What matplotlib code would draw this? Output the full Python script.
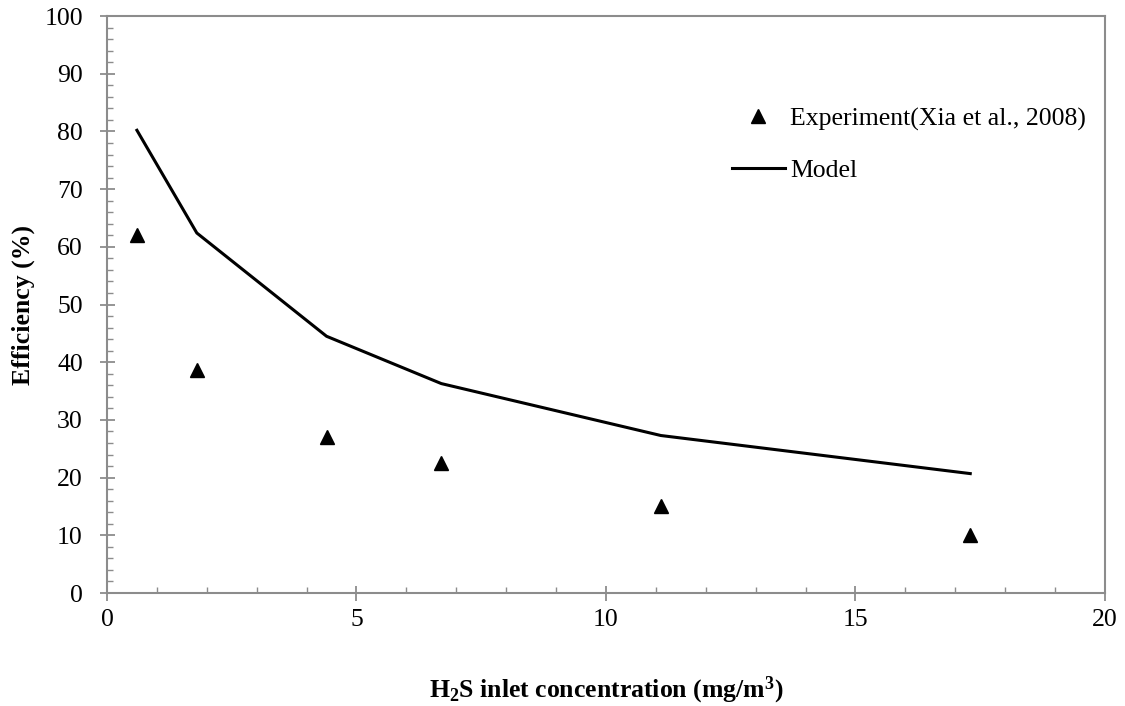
import matplotlib
matplotlib.use("Agg")
import matplotlib.pyplot as plt
from matplotlib.ticker import MultipleLocator

plt.rcParams['font.family'] = ['Liberation Serif', 'DejaVu Serif']
plt.rcParams['mathtext.fontset'] = 'custom'
plt.rcParams['mathtext.rm'] = 'Liberation Serif'
plt.rcParams['mathtext.bf'] = 'Liberation Serif:bold'

# H2S inlet concentration (mg/m3)
concentration = [0.6, 1.8, 4.4, 6.7, 11.1, 17.3]
# Removal efficiency (%)
experiment = [62.0, 38.6, 27.1, 22.5, 15.1, 10.1]
model = [80.2, 62.4, 44.5, 36.3, 27.3, 20.7]

x_ticks = [0, 5, 10, 15, 20]
y_ticks = [0, 10, 20, 30, 40, 50, 60, 70, 80, 90, 100]

FS = 18.5

fig = plt.figure(figsize=(11.25, 7.06), dpi=100)
ax = fig.add_axes([0.0951, 0.160, 0.8871, 0.8173])

ax.plot(concentration, experiment, linestyle='none', marker='^', color='black',
        markersize=10.5, label='Experiment(Xia et al., 2008)')
ax.plot(concentration, model, color='black', linewidth=2.2, label='Model')

ax.set_xlim(0, 20)
ax.set_ylim(0, 100)
ax.set_xticks(x_ticks)
ax.set_yticks(y_ticks)
ax.xaxis.set_minor_locator(MultipleLocator(1))
ax.yaxis.set_minor_locator(MultipleLocator(2))

spine_color = '#8c8c8c'
for s in ax.spines.values():
    s.set_color(spine_color)
    s.set_linewidth(1.5)

ax.tick_params(which='major', direction='inout', length=10.8, width=1.3,
               color=spine_color, labelsize=FS, labelcolor='black')
ax.tick_params(which='minor', direction='in', length=4.5, width=1.0,
               color=spine_color)
ax.tick_params(axis='x', which='major', pad=6)
ax.tick_params(axis='y', which='major', pad=12)

ax.set_ylabel('Efficiency (%)', fontsize=FS, fontweight='bold')
ax.yaxis.set_label_coords(-0.084, 0.5)
ax.yaxis.label.set_verticalalignment('center')

ax.set_xlabel(r'$\mathbf{H_2S}$ inlet concentration (mg/m$\mathbf{^3}$)',
              fontsize=FS, fontweight='bold')
ax.xaxis.set_label_coords(0.5, -0.168)
ax.xaxis.label.set_verticalalignment('center')

leg = ax.legend(loc='upper left', bbox_to_anchor=(0.603, 0.882), frameon=False,
                fontsize=FS, handlelength=2.07, handletextpad=0.19,
                labelspacing=1.1)

fig.savefig('out.png', dpi=100)
